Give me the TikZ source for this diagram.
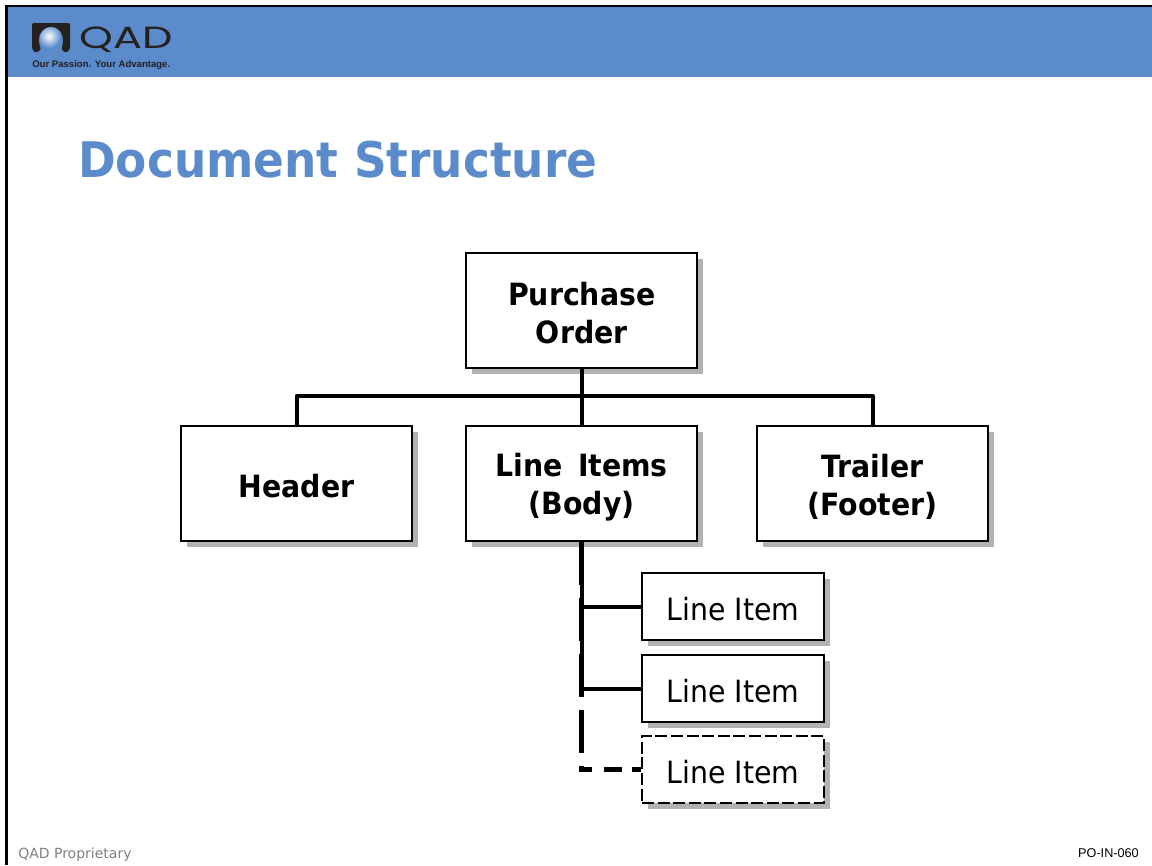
\documentclass[tikz,border=0pt]{standalone}
\usepackage{fontspec}
\setmainfont{DejaVu Sans}[FakeStretch=0.925]
\newfontfamily\dejaplain{DejaVu Sans}
\newfontfamily\liberation{Liberation Sans}
\newfontfamily\poppinsfont{Poppins}[FakeStretch=1.4]
\definecolor{band}{HTML}{5B8BCB}
\definecolor{titleblue}{HTML}{5B8BCB}
\definecolor{shade}{HTML}{B2B2B2}
\definecolor{logodark}{HTML}{24211F}
\newcommand{\lowerbig}{\rule{0pt}{21pt}}
\newcommand{\lowermid}{\rule{0pt}{22.5pt}}
\newcommand{\lowersmall}{\rule{0pt}{21.5pt}}
\tikzset{
  bigbox/.style={draw=black,line width=1.5pt,fill=white,minimum width=173.25pt,minimum height=86.25pt,inner sep=0pt,align=center,font=\fontsize{23}{28.5}\selectfont\bfseries},
  smallbox/.style={draw=black,line width=1.5pt,fill=white,minimum width=136.5pt,minimum height=50.25pt,inner sep=0pt,align=center,font=\fontsize{23}{28}\selectfont},
  dashbox/.style={smallbox,dash pattern=on 9pt off 2.7pt},
  shadowrect/.style={fill=shade,draw=none},
  link/.style={draw=black,line width=3pt},
  dashtrunk/.style={draw=black,line width=4pt,dash pattern=on 32.25pt off 9.75pt,shorten >=-1.9pt},
  dashbranch/.style={draw=black,line width=3.8pt,dash pattern=on 7.5pt off 9pt on 13.5pt off 7.5pt on 10pt off 10pt},
}
\begin{document}
\begin{tikzpicture}[x=0.75pt,y=-0.75pt]
\useasboundingbox (0,0) rectangle (1152,865);
\fill[white] (0,0) rectangle (1152,865);
% header band and frame
\fill[band] (6,6) rectangle (1152,77);
\fill[black] (5,5) rectangle (1152,7);
\fill[black] (5,5) rectangle (7.5,865);
% logo
\shade[inner color=white,outer color=band] (49,36) circle (12);
\fill[logodark,even odd rule,rounded corners=1pt] (32,23) -- (70,23) -- (70,49) -- (66,53) -- (61.5,49.5) -- (63,43)
  .. controls (63.5,32) and (57,27) .. (51,27) .. controls (45,27) and (38.5,32) .. (39,43)
  -- (41,49.5) -- (36,53) -- (32,49) -- cycle;
\node[inner sep=0pt,text=logodark,anchor=west] (qad) at (79,39.5)
  {\poppinsfont\fontsize{23}{23}\selectfont QAD};
\node[inner sep=0pt,text=logodark,anchor=west] (tag) at (32,65)
  {\liberation\bfseries\fontsize{7.18}{8}\selectfont Our Passion. Your Advantage.};
% title and footers
\node[inner sep=0pt,anchor=west,text=titleblue] (title) at (78,160)
  {\bfseries\fontsize{36.8}{44}\selectfont Document Structure};
\node[inner sep=0pt,anchor=west,text=black!50] (prop) at (18,855)
  {\dejaplain\fontsize{10.5}{12}\selectfont QAD Proprietary};
\node[inner sep=0pt,anchor=east] (code) at (1139,853)
  {\liberation\fontsize{9.5}{11}\selectfont PO-IN-060};
% shadows
\foreach \x/\y in {472/259,187/432,472/432,763/432}
  \fill[shadowrect] (\x,\y) rectangle ++(231,115);
\foreach \y in {579,661,742}
  \fill[shadowrect] (648,\y) rectangle ++(182,67);
% boxes
\node[bigbox] (po) at (581.75,310.5) {\lowerbig Purchase\\Order};
\node[bigbox] (hdr) at (296.5,483.5) {\lowerbig Header};
\node[bigbox] (body) at (581.75,483.5) {\lowermid Line\hspace{4pt} Items\\(Body)};
\node[bigbox] (trl) at (872.5,483.5) {\lowermid Trailer\\(Footer)};
\node[smallbox] (li1) at (733,606.5) {\lowersmall Line Item};
\node[smallbox] (li2) at (733,688.5) {\lowersmall Line Item};
\node[dashbox] (li3) at (733,769.5) {\lowersmall Line Item};
% connector anchors
\coordinate (bus) at (po.south |- 0,396);
\coordinate (elbow) at (body.south |- li3.west);
% connectors
\draw[link] (po.south) -- (body.north);
\draw[link,line join=round] (hdr.north) |- (bus) -| (trl.north);
\draw[link] (body.south) |- (li1.west);
\draw[link] (body.south) |- (li2.west);
\draw[dashtrunk] (body.south) -- (elbow);
\draw[dashbranch] (elbow) -- (li3.west);
\end{tikzpicture}
\end{document}
